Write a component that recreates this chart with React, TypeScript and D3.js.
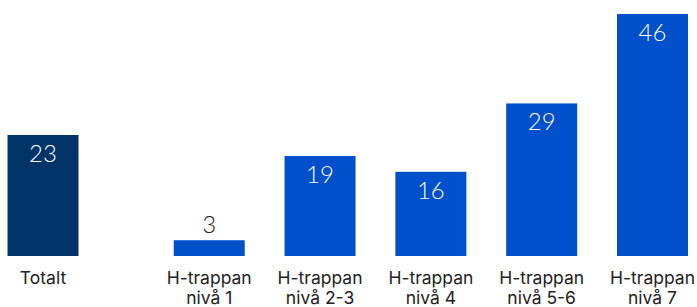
import React, { useEffect, useRef } from "react";
import * as d3 from "d3";

const categories = ["Totalt", "H-trappan\nnivå 1", "H-trappan\nnivå 2-3", "H-trappan\nnivå 4", "H-trappan\nnivå 5-6", "H-trappan\nnivå 7"];
const values = [23, 3, 19, 16, 29, 46];
const groups = ["total", "level", "level", "level", "level", "level"];

export default function App() {
  const svgRef = useRef<SVGSVGElement>(null);

  useEffect(() => {
    const svg = d3.select(svgRef.current);
    svg.selectAll("*").remove();

    const width = 697, height = 307;
    const baseline = 256, top = 14;
    const barW = 71;
    const font = "Inter, 'Noto Sans', sans-serif";

    svg.attr("width", width).attr("height", height);

    // Totalt gets an extra half step of space before the levels
    const pos = categories.map((_, i) => (i === 0 ? 0 : i + 0.5));
    const x = d3.scaleLinear().domain([0, 5.5]).range([43, 652.5]);
    const y = d3.scaleLinear().domain([0, 46]).range([baseline, top]);

    const g = svg.append("g");

    g.selectAll("rect")
      .data(values)
      .enter()
      .append("rect")
      .attr("x", (_, i) => x(pos[i]) - barW / 2)
      .attr("y", d => y(d))
      .attr("width", barW)
      .attr("height", d => baseline - y(d))
      .attr("fill", (_, i) => (groups[i] === "total" ? "#003468" : "#004fcb"));

    g.selectAll("text.value")
      .data(values)
      .enter()
      .append("text")
      .attr("class", "value")
      .attr("x", (_, i) => x(pos[i]))
      .attr("y", d => (baseline - y(d) > 40 ? y(d) + 27 : y(d) - 7))
      .attr("text-anchor", "middle")
      .style("font-family", "Lato, 'DejaVu Sans', sans-serif")
      .style("font-weight", 300)
      .style("font-size", "24px")
      .attr("fill", d => (baseline - y(d) > 40 ? "#ffffff" : "#222222"))
      .text(d => d);

    categories.forEach((c, i) => {
      const t = g.append("text")
        .attr("x", x(pos[i]))
        .attr("y", 284)
        .attr("text-anchor", "middle")
        .style("font-family", font)
        .style("font-size", "17.5px")
        .attr("fill", "#222222");
      c.split("\n").forEach((line, j) => {
        t.append("tspan")
          .attr("x", x(pos[i]))
          .attr("dy", j === 0 ? 0 : 19.5)
          .text(line);
      });
    });
  }, []);

  return (
    <div style={{ position: "absolute", left: 0, top: 0 }}>
      <svg ref={svgRef}></svg>
    </div>
  );
}
